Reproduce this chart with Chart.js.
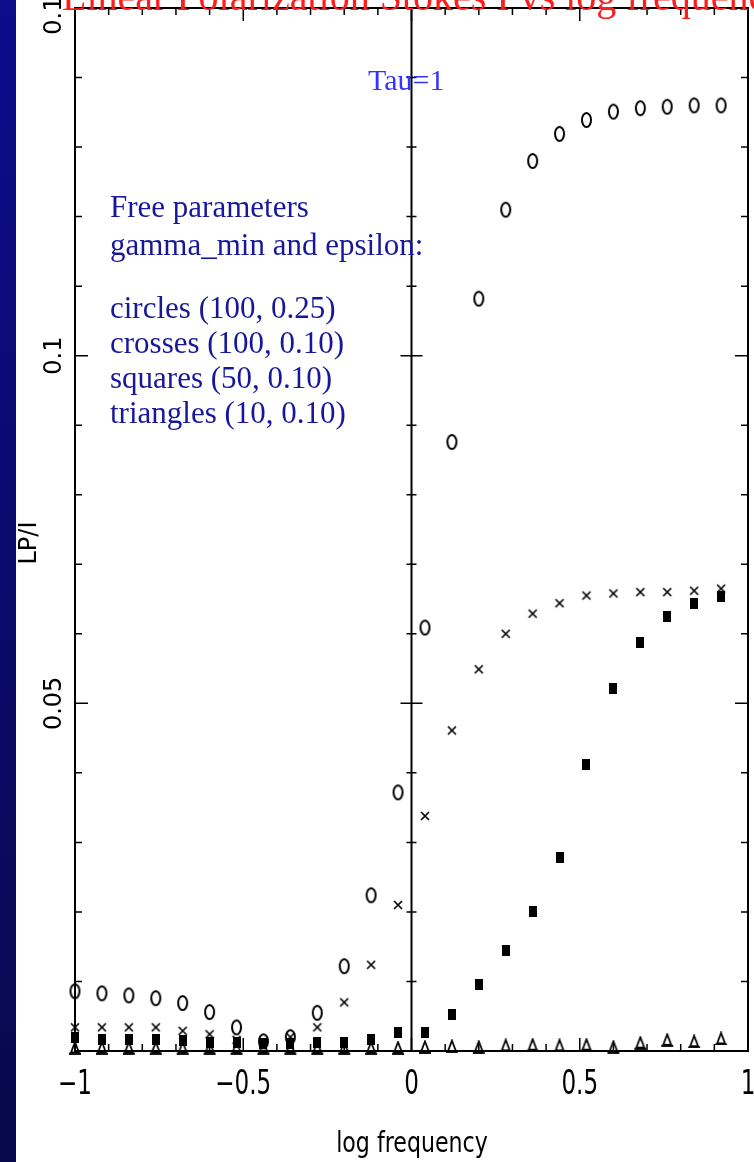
<!DOCTYPE html>
<html>
<head>
<meta charset="utf-8">
<script src="https://cdn.jsdelivr.net/npm/chart.js@4/dist/chart.umd.min.js"></script>
<style>
  html, body { margin: 0; padding: 0; background: #fff; }
  canvas { display: block; }
</style>
</head>
<body>
<canvas id="lpChart" width="754" height="1162"></canvas>
<script>
// log frequency of every sample
const logFreq = [-1, -0.92, -0.84, -0.76, -0.68, -0.6, -0.52, -0.44, -0.36, -0.28, -0.2, -0.12, -0.04,
                 0.04, 0.12, 0.2, 0.28, 0.36, 0.44, 0.52, 0.6, 0.68, 0.76, 0.84, 0.92];
// LP/I for the four runs
const circles   = [0.0086, 0.0083, 0.0080, 0.0076, 0.0069, 0.0056, 0.0034, 0.0014, 0.0020, 0.0055, 0.0122, 0.0224, 0.0372,
                   0.0609, 0.0876, 0.1082, 0.1210, 0.1280, 0.1319, 0.1339, 0.1351, 0.1356, 0.1358, 0.1360, 0.1360];
const crosses   = [0.0034, 0.0034, 0.0034, 0.0034, 0.0029, 0.0024, 0.0016, 0.0013, 0.0020, 0.0034, 0.0070, 0.0124, 0.0210,
                   0.0338, 0.0461, 0.0549, 0.0600, 0.0629, 0.0644, 0.0655, 0.0658, 0.0660, 0.0660, 0.0662, 0.0665];
const squares   = [0.0019, 0.0016, 0.0016, 0.0016, 0.0015, 0.0012, 0.0012, 0.0011, 0.0011, 0.0012, 0.0012, 0.0017, 0.0027,
                   0.0027, 0.0052, 0.0096, 0.0145, 0.0200, 0.0279, 0.0412, 0.0522, 0.0588, 0.0625, 0.0644, 0.0654];
const triangles = [0.0005, 0.0005, 0.0005, 0.0005, 0.0005, 0.0005, 0.0005, 0.0005, 0.0005, 0.0005, 0.0005, 0.0005, 0.0005,
                   0.0006, 0.0007, 0.0006, 0.0008, 0.0009, 0.0008, 0.0009, 0.0006, 0.0012, 0.0016, 0.0014, 0.0018];

const xTickValues = [-1, -0.5, 0, 0.5, 1];
const xTickLabels = ['\u22121', '\u22120.5', '0', '0.5', '1'];
const yTickLabels = ['0.05', '0.1', '0.15'];

const titulo = 'Linear Polarization Stokes I vs log frequency';
const notas = ['Free parameters', 'gamma_min and epsilon:', 'circles (100, 0.25)',
               'crosses (100, 0.10)', 'squares (50, 0.10)', 'triangles (10, 0.10)'];
const notasY = [217, 255, 318, 353, 388, 423];

// little canvases used as point styles
function marcador(w, h, lw, dibujar) {
    const c = document.createElement('canvas');
    c.width = w; c.height = h;
    const g = c.getContext('2d');
    g.strokeStyle = '#000'; g.fillStyle = '#000'; g.lineWidth = lw;
    dibujar(g, w, h);
    return c;
}
const anillo = marcador(13, 18, 2, (g, w, h) => {
    g.beginPath(); g.ellipse(w / 2, h / 2, w / 2 - 2, h / 2 - 2, 0, 0, Math.PI * 2); g.stroke();
});
const cruz = marcador(12, 12, 1.7, (g, w, h) => {
    g.beginPath();
    g.moveTo(2, 2); g.lineTo(w - 2, h - 2);
    g.moveTo(w - 2, 2); g.lineTo(2, h - 2);
    g.stroke();
});
const bloque = marcador(8, 11, 1, (g, w, h) => { g.fillRect(0, 0, w, h); });
const triangulo = marcador(14, 14, 1.8, (g, w, h) => {
    g.beginPath(); g.moveTo(w / 2, 1.5); g.lineTo(w - 3, h - 2); g.lineTo(3, h - 2); g.closePath(); g.stroke();
    g.beginPath(); g.moveTo(1, h - 1); g.lineTo(w - 1, h - 1); g.stroke();
});

const casi = (a, b) => Math.abs(a - b) < 1e-6;

function textoGirado(ctx, txt, x, y) {
    ctx.save(); ctx.translate(x, y); ctx.rotate(-Math.PI / 2); ctx.fillText(txt, 0, 0); ctx.restore();
}
function textoEstrecho(ctx, txt, x, y, sx) {
    ctx.save(); ctx.translate(x, y); ctx.scale(sx, 1); ctx.fillText(txt, 0, 0); ctx.restore();
}

const marco = {
    id: 'marco',
    beforeDraw(chart) {
        const ctx = chart.ctx;
        ctx.save();
        ctx.fillStyle = '#fff';
        ctx.fillRect(0, 0, chart.width, chart.height);
        const grad = ctx.createLinearGradient(0, 0, 0, chart.height);
        grad.addColorStop(0, '#0c0c8c');
        grad.addColorStop(1, '#08084c');
        ctx.fillStyle = grad;
        ctx.fillRect(0, 0, 16, chart.height);
        ctx.restore();
    },
    beforeDatasetsDraw(chart) {
        const {ctx, chartArea: a, scales: {x, y}} = chart;
        const x0 = x.getPixelForValue(0);
        ctx.save();
        ctx.strokeStyle = '#000';
        ctx.lineWidth = 2;
        ctx.strokeRect(a.left, a.top, a.right - a.left, a.bottom - a.top);
        ctx.beginPath(); ctx.moveTo(x0, a.top); ctx.lineTo(x0, a.bottom); ctx.stroke();
        ctx.lineWidth = 1.5;
        ctx.beginPath();
        x.ticks.forEach(t => {
            const px = x.getPixelForValue(t.value);
            const len = casi(t.value * 2, Math.round(t.value * 2)) ? 13 : 7;
            ctx.moveTo(px, a.bottom); ctx.lineTo(px, a.bottom - len);
            ctx.moveTo(px, a.top); ctx.lineTo(px, a.top + len);
        });
        y.ticks.forEach(t => {
            const py = y.getPixelForValue(t.value);
            const mayor = casi(t.value * 20, Math.round(t.value * 20));
            const len = mayor ? 13 : 7;
            ctx.moveTo(a.left, py); ctx.lineTo(a.left + len, py);
            ctx.moveTo(a.right, py); ctx.lineTo(a.right - len, py);
            const l2 = mayor ? 11 : 5;
            ctx.moveTo(x0 - l2, py); ctx.lineTo(x0 + l2, py);
        });
        ctx.stroke();
        ctx.restore();
    },
    afterDraw(chart) {
        const {ctx, scales: {x, y}} = chart;
        ctx.save();
        ctx.fillStyle = '#000';
        ctx.textAlign = 'center';
        ctx.textBaseline = 'middle';
        // y tick labels, rotated
        ctx.font = '24px "DejaVu Sans"';
        yTickLabels.forEach(lbl => textoGirado(ctx, lbl, 55, y.getPixelForValue(parseFloat(lbl))));
        textoGirado(ctx, 'LP/I', 30, 543);

        // x tick labels, narrow
        ctx.font = '33px "DejaVu Sans"';
        xTickValues.forEach((v, i) => textoEstrecho(ctx, xTickLabels[i], x.getPixelForValue(v), 1085, 0.7));

        ctx.textBaseline = 'alphabetic';
        ctx.font = '28px "DejaVu Sans"';
        textoEstrecho(ctx, 'log frequency', 412, 1152, 0.79);

        ctx.textAlign = 'left';
        ctx.fillStyle = '#ff1c1c';
        ctx.font = '40px "Liberation Serif"';
        ctx.fillText(titulo, 62, 10);

        ctx.fillStyle = '#3434ff';
        ctx.font = '30px "Liberation Serif"';
        ctx.fillText('Tau=1', 368, 90);

        ctx.fillStyle = '#17179a';
        ctx.font = '31px "Liberation Serif"';
        notas.forEach((t, i) => ctx.fillText(t, 110, notasY[i]));
        ctx.restore();
    }
};

const puntos = serie => logFreq.map((x, i) => ({x: x, y: serie[i]}));

new Chart(document.getElementById('lpChart'), {
    type: 'scatter',
    data: {
        datasets: [
            {label: 'circles', data: puntos(circles), pointStyle: anillo, order: 1},
            {label: 'crosses', data: puntos(crosses), pointStyle: cruz, order: 2},
            {label: 'squares', data: puntos(squares), pointStyle: bloque, order: 3},
            {label: 'triangles', data: puntos(triangles), pointStyle: triangulo, order: 4}
        ]
    },
    options: {
        responsive: false,
        animation: false,
        devicePixelRatio: 1,
        layout: {padding: {top: 8, right: 5, left: 0, bottom: 0}},
        plugins: {legend: {display: false}, tooltip: {enabled: false}},
        elements: {point: {radius: 5, hoverRadius: 5}},
        datasets: {scatter: {clip: false}},
        scales: {
            x: {
                type: 'linear', min: -1, max: 1,
                afterFit(s) { s.height = 111; },
                grid: {display: false, drawTicks: false},
                border: {display: false},
                ticks: {stepSize: 0.1, display: false}
            },
            y: {
                type: 'linear', min: 0, max: 0.15,
                afterFit(s) { s.width = 75; },
                grid: {display: false, drawTicks: false},
                border: {display: false},
                ticks: {stepSize: 0.01, display: false}
            }
        }
    },
    plugins: [marco]
});
</script>
</body>
</html>
